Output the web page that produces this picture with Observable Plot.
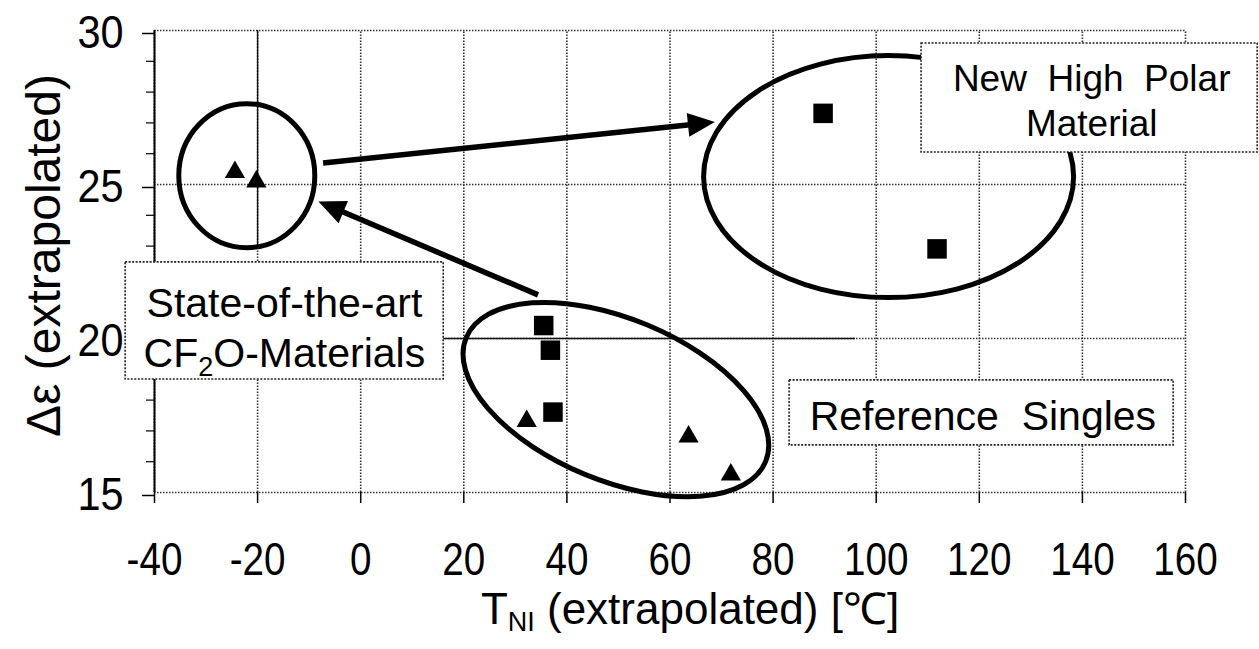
<!DOCTYPE html>
<html>
<head>
<meta charset="utf-8">
<script src="https://cdn.jsdelivr.net/npm/d3@7"></script>
<script src="https://cdn.jsdelivr.net/npm/@observablehq/plot@0.6"></script>
<style>
  body { margin: 0; background: #fff; }
  #chart svg { font-family: "Liberation Sans", Arial, sans-serif; }
</style>
</head>
<body>
<div id="chart"></div>
<script>
// ---- data ----
const stateX = [-24.4, -20.25];          // state-of-the-art CF2O materials (triangles)
const stateY = [25.40, 25.09];
const newX = [89.7, 111.8];              // new high polar materials (squares)
const newY = [27.31, 22.91];
const refTriX = [32.2, 63.6, 71.8];      // reference singles (triangles)
const refTriY = [17.32, 16.81, 15.58];
const refSqX = [35.5, 36.8, 37.3];       // reference singles (squares)
const refSqY = [20.42, 19.62, 17.61];
const xTicks = [-40, -20, 0, 20, 40, 60, 80, 100, 120, 140, 160];
const yTicks = [15, 20, 25, 30];
const yMinor = [16, 17, 18, 19, 21, 22, 23, 24, 26, 27, 28, 29];
const labelTexts = ["State-of-the-art\nCF2O-Materials", "New\u00a0 High\u00a0 Polar\nMaterial", "Reference\u00a0 Singles"];
const xTitle = "TNI (extrapolated) [\u2103]";
const yTitle = "\u0394\u03b5 (extrapolated)";

// ---- annotation geometry (data coordinates) ----
const ellipses = [
  {cx: -22.0, cy: 25.27, rx: 68, ry: 72, angle: 0},
  {cx: 102.5, cy: 25.24, rx: 185, ry: 121, angle: 0},
  {cx: 49.6, cy: 18.0, rx: 162, ry: 81, angle: 22.5}
];
const arrows = [
  {x1: -7.2, y1: 25.68, x2: 68.8, y2: 27.01},
  {x1: 34.5, y1: 21.4, x2: -8.1, y2: 24.43}
];
const boxes = [
  {x1: -45.6, x2: 16.1, y1: 18.67, y2: 22.47, tx: -14.8, ty: 20.42},
  {x1: 108.8, x2: 174.0, y1: 26.04, y2: 29.58, tx: 141.8, ty: 27.77},
  {x1: 83.2, x2: 157.7, y1: 16.53, y2: 18.64, tx: 120.7, ty: 17.44}
];
// solid segments of the grid visible in the reference
const solidV = [{x: -20, y1: 22.9, y2: 30}];
const solidH = [{y: 20, x1: 16.1, x2: 96}];

const pts = (xs, ys) => xs.map((x, i) => ({x, y: ys[i]}));

const ellipseMark = Plot.dot(ellipses, {
  x: "cx", y: "cy",
  render(index, scales, values) {
    const g = d3.create("svg:g");
    for (const i of index) {
      const e = ellipses[i];
      const X = values.x[i], Y = values.y[i];
      g.append("ellipse")
        .attr("cx", X).attr("cy", Y).attr("rx", e.rx).attr("ry", e.ry)
        .attr("transform", `rotate(${e.angle} ${X} ${Y})`)
        .attr("fill", "none").attr("stroke", "#000").attr("stroke-width", 5);
    }
    return g.node();
  }
});

const arrowMark = Plot.link(arrows, {
  x1: "x1", y1: "y1", x2: "x2", y2: "y2",
  render(index, scales, values) {
    const g = d3.create("svg:g");
    for (const i of index) {
      const X1 = values.x1[i], Y1 = values.y1[i], X2 = values.x2[i], Y2 = values.y2[i];
      const L = Math.hypot(X2 - X1, Y2 - Y1), ux = (X2 - X1) / L, uy = (Y2 - Y1) / L;
      const hl = 27, hw = 12;
      const bx = X2 - ux * hl, by = Y2 - uy * hl;
      g.append("line").attr("x1", X1).attr("y1", Y1).attr("x2", bx + ux * 2).attr("y2", by + uy * 2)
        .attr("stroke", "#000").attr("stroke-width", 5.5);
      g.append("path")
        .attr("d", `M${X2},${Y2}L${bx - uy * hw},${by + ux * hw}L${bx + uy * hw},${by - ux * hw}Z`)
        .attr("fill", "#000");
    }
    return g.node();
  }
});

const plot = Plot.plot({
  width: 1259,
  height: 649,
  marginLeft: 154,
  marginRight: 74,
  marginTop: 30,
  marginBottom: 157,
  style: {fontFamily: "'Liberation Sans', Arial, sans-serif", fontSize: "46px", color: "#000", background: "#fff"},
  x: {domain: [-40, 160]},
  y: {domain: [15, 30]},
  marks: [
    Plot.ruleX(xTicks, {y1: 15, y2: 30, stroke: "#333", strokeWidth: 1.6, strokeDasharray: "1.5,1.5"}),
    Plot.ruleY(yTicks, {x1: -40, x2: 160, stroke: "#333", strokeWidth: 1.6, strokeDasharray: "1.5,1.5"}),
    Plot.ruleX(solidV, {x: "x", y1: "y1", y2: "y2", stroke: "#111", strokeWidth: 1.4}),
    Plot.ruleY(solidH, {y: "y", x1: "x1", x2: "x2", stroke: "#111", strokeWidth: 1.4}),
    Plot.ruleX([-40], {y1: 15, y2: 30, stroke: "#000", strokeWidth: 2}),
    Plot.axisX(xTicks, {tickSize: 11, tickPadding: 39, fontSize: 46, tickFormat: d => String(d), label: null, stroke: "#000", strokeWidth: 1.5}),
    Plot.axisY(yTicks, {tickSize: 12, tickPadding: 19, fontSize: 46, dy: 3, tickFormat: d => String(d), label: null, stroke: "#000", strokeWidth: 1.5}),
    Plot.axisY(yMinor, {tickSize: 8, tickFormat: () => "", label: null, stroke: "#000", strokeWidth: 1.2}),
    ellipseMark,
    arrowMark,
    Plot.rect(boxes, {x1: "x1", x2: "x2", y1: "y1", y2: "y2", fill: "#fff", stroke: "#222", strokeWidth: 1.6, strokeDasharray: "2,1.5"}),
    Plot.text([labelTexts[0]], {x: boxes[0].tx, y: boxes[0].ty, fontSize: 41, lineHeight: 1.22, fill: "#000"}),
    Plot.text([labelTexts[1]], {x: boxes[1].tx, y: boxes[1].ty, fontSize: 37, lineHeight: 1.22, fill: "#000"}),
    Plot.text([labelTexts[2]], {x: boxes[2].tx, y: boxes[2].ty, fontSize: 41, fill: "#000"}),
    Plot.dot(pts(stateX, stateY), {x: "x", y: "y", symbol: "triangle", r: 7.5, fill: "#000"}),
    Plot.dot(pts(refTriX, refTriY), {x: "x", y: "y", symbol: "triangle", r: 7.5, fill: "#000"}),
    Plot.dot(pts(refSqX, refSqY), {x: "x", y: "y", symbol: "square", r: 11, fill: "#000"}),
    Plot.dot(pts(newX, newY), {x: "x", y: "y", symbol: "square", r: 11, fill: "#000"}),
    Plot.text([xTitle], {frameAnchor: "bottom", textAnchor: "middle", lineAnchor: "middle", dx: 20, dy: 117, fontSize: 44, fill: "#000"}),
    Plot.text([yTitle], {frameAnchor: "left", textAnchor: "middle", lineAnchor: "middle", rotate: -90, dx: -110, dy: -6, fontSize: 48, fill: "#000"})
  ]
});

// horizontally condensed tick labels, as in the reference
function squeeze(selector, k) {
  for (const t of plot.querySelectorAll(selector)) {
    const tr = t.getAttribute("transform");
    if (tr) t.setAttribute("transform", `${tr} scale(${k},1)`);
    else {
      const x = +t.getAttribute("x") || 0, y = +t.getAttribute("y") || 0;
      t.removeAttribute("x"); t.removeAttribute("y");
      t.setAttribute("transform", `translate(${x},${y}) scale(${k},1)`);
    }
  }
}
squeeze('g[aria-label="x-axis tick label"] text', 0.84);
squeeze('g[aria-label="y-axis tick label"] text', 0.9);

// subscripts
for (const t of plot.querySelectorAll("text, tspan")) {
  if (t.childElementCount === 0 && t.textContent === xTitle) {
    t.innerHTML = 'T<tspan font-size="27" dy="7">NI</tspan><tspan dy="-7"> (extrapolated) [\u2103]</tspan>';
  } else if (t.childElementCount === 0 && t.textContent === "CF2O-Materials") {
    t.innerHTML = 'CF<tspan font-size="27" dy="9">2</tspan><tspan dy="-9">O-Materials</tspan>';
  }
}
document.getElementById("chart").appendChild(plot);
</script>
</body>
</html>
